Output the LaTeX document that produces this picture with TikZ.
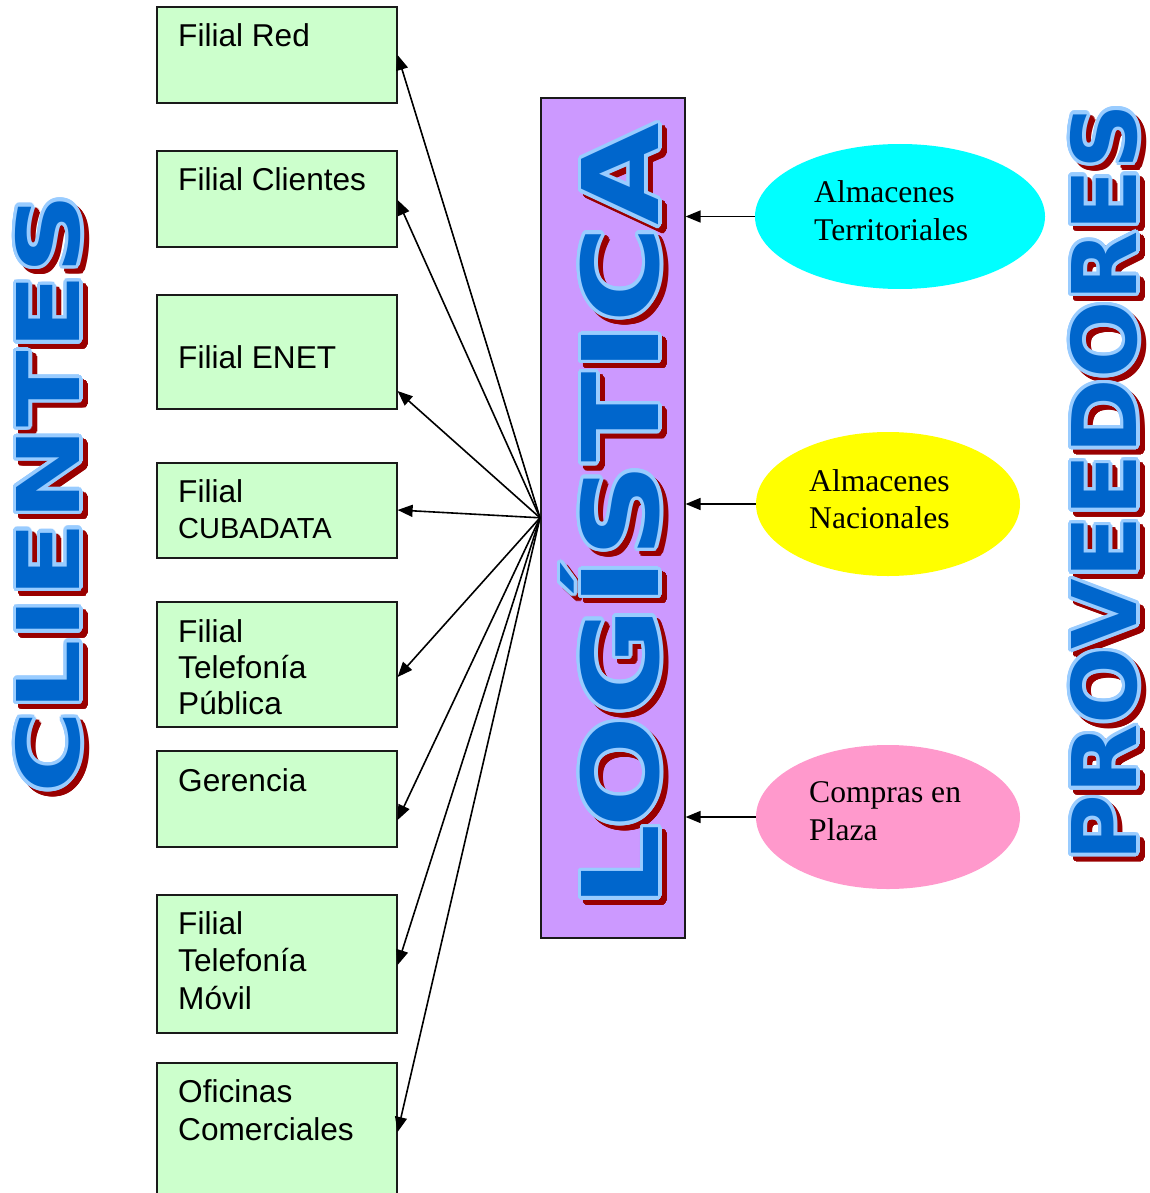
\documentclass[tikz,border=0pt]{standalone}
\usepackage{fontspec}
\setmainfont{Liberation Sans}
\newfontfamily\serifface{Liberation Serif}
\newfontfamily\artface{DejaVu Sans}
\usetikzlibrary{arrows.meta,shapes.geometric,calc}

\definecolor{boxgreen}{HTML}{CCFFCC}
\definecolor{logpurple}{HTML}{CC99FF}
\definecolor{provcyan}{HTML}{00FFFF}
\definecolor{provyellow}{HTML}{FFFF00}
\definecolor{provpink}{HTML}{FF99CC}
\definecolor{waFace}{HTML}{0066CC}
\definecolor{waRim}{HTML}{99CCFF}
\definecolor{waShadow}{HTML}{990000}
\definecolor{edge}{HTML}{1A1A1A}

% left-aligned lines whose baseline is the first line's baseline
\newcommand\lineset[1]{\vtop{\halign{##\hfil\cr#1\crcr}}}
% stretched heading letters: length along the text, cap height across it
\newcommand\artbox[3]{\resizebox{#1pt}{#2pt}{\vphantom{L}\smash{#3}}}
% outlined heading with drop shadow: name, x, y, length, cap height, text
\newcommand\wordart[6]{%
  \foreach \a in {0,15,...,345}{
    \node[art,text=waShadow] (#1-s\a) at ($(#2+5,#3+5)+(\a:3.5pt)$) {\artbox{#4}{#5}{#6}};
  }
  \foreach \a in {0,15,...,345}{
    \node[art,text=waRim] (#1-r\a) at ($(#2,#3)+(\a:3.5pt)$) {\artbox{#4}{#5}{#6}};
  }
  \node[art,text=waFace] (#1) at (#2,#3) {\artbox{#4}{#5}{#6}};
}

\tikzset{
  client/.style={draw=edge, line width=1.6pt, fill=boxgreen, minimum width=240pt,
    inner sep=0pt, anchor=north west},
  clienttext/.style={anchor=base west, inner sep=0pt, font=\fontsize{31.6}{36}\selectfont},
  hub/.style={draw=edge, line width=1.6pt, fill=logpurple, minimum width=144pt,
    minimum height=840pt, inner sep=0pt, anchor=north west},
  supplier/.style={ellipse, inner sep=0pt},
  suppliertext/.style={anchor=base west, inner sep=0pt,
    font=\serifface\fontsize{31.6}{37}\selectfont},
  arr/.style={line width=1.6pt, -{Triangle[length=15pt,width=12pt]}},
  art/.style={rotate=90, inner sep=0pt, font=\artface\bfseries},
}

\begin{document}
\begin{tikzpicture}[x=1pt,y=-1pt]
\clip (0,0) rectangle (1149,1193);
\fill[white] (0,0) rectangle (1149,1193);

% client boxes
\node[client, minimum height=96pt]  (b1) at (156,6)    {};
\node[client, minimum height=96pt]  (b2) at (156,150)  {};
\node[client, minimum height=114pt] (b3) at (156,294)  {};
\node[client, minimum height=95pt]  (b4) at (156,462)  {};
\node[client, minimum height=125pt] (b5) at (156,601)  {};
\node[client, minimum height=96pt]  (b6) at (156,750)  {};
\node[client, minimum height=138pt] (b7) at (156,894)  {};
\node[client, minimum height=200pt] (b8) at (156,1062) {};

\node[clienttext] (t1) at (178,47)  {Filial Red};
\node[clienttext] (t2) at (178,190) {Filial Clientes};
\node[clienttext] (t3) at (178,368) {Filial ENET};
\node[clienttext] (t4) at (178,502) {\lineset{Filial\cr{\fontsize{29}{35}\selectfont CUBADATA}}};
\node[clienttext] (t5) at (178,642) {\lineset{Filial\cr Telefonía\cr Pública}};
\node[clienttext] (t6) at (178,791) {Gerencia};
\node[clienttext, font=\fontsize{31.6}{37.5}\selectfont] (t7) at (178,934) {\lineset{Filial\cr Telefonía\cr Móvil}};
\node[clienttext, font=\fontsize{31.6}{38}\selectfont] (t8) at (178,1102) {\lineset{Oficinas\cr Comerciales}};

% logistics column
\node[hub] (L) at (540,97) {};

% suppliers
\node[supplier, fill=provcyan,   minimum width=290pt, minimum height=145pt] (e1) at (900,216.5) {};
\node[supplier, fill=provyellow, minimum width=264pt, minimum height=144pt] (e2) at (888,504) {};
\node[supplier, fill=provpink,   minimum width=264pt, minimum height=144pt] (e3) at (888,817) {};

\node[suppliertext] (s1) at (814,203) {\lineset{Almacenes\cr Territoriales}};
\node[suppliertext] (s2) at (809,491) {\lineset{Almacenes\cr Nacionales}};
\node[suppliertext, font=\serifface\fontsize{31.6}{38}\selectfont] (s3) at (809,802) {\lineset{Compras en\cr Plaza}};

% connectors
\draw[arr] (L.west) -- (b1.east |- 0,55);
\draw[arr] (L.west) -- (b2.east |- 0,200);
\draw[arr] (L.west) -- (b3.east |- 0,391);
\draw[arr] (L.west) -- (b4.east |- 0,510);
\draw[arr] (L.west) -- (b5.east |- 0,677);
\draw[arr] (L.west) -- (b6.east |- 0,820);
\draw[arr] (L.west) -- (b7.east |- 0,965);
\draw[arr] (L.west) -- (b8.east |- 0,1132);

\draw[arr] (e1.west) -- (e1.west -| L.east);
\draw[arr] (e2.west) -- (e2.west -| L.east);
\draw[arr] (e3.west) -- (e3.west -| L.east);

% headings
\wordart{clientes}{48}{493.5}{600}{63}{CLIENTES}
\wordart{logistica}{620}{516}{785}{77}{LOGÍSTICA}
\wordart{proveedores}{1104}{482.5}{758}{65}{PROVEEDORES}
\end{tikzpicture}
\end{document}
